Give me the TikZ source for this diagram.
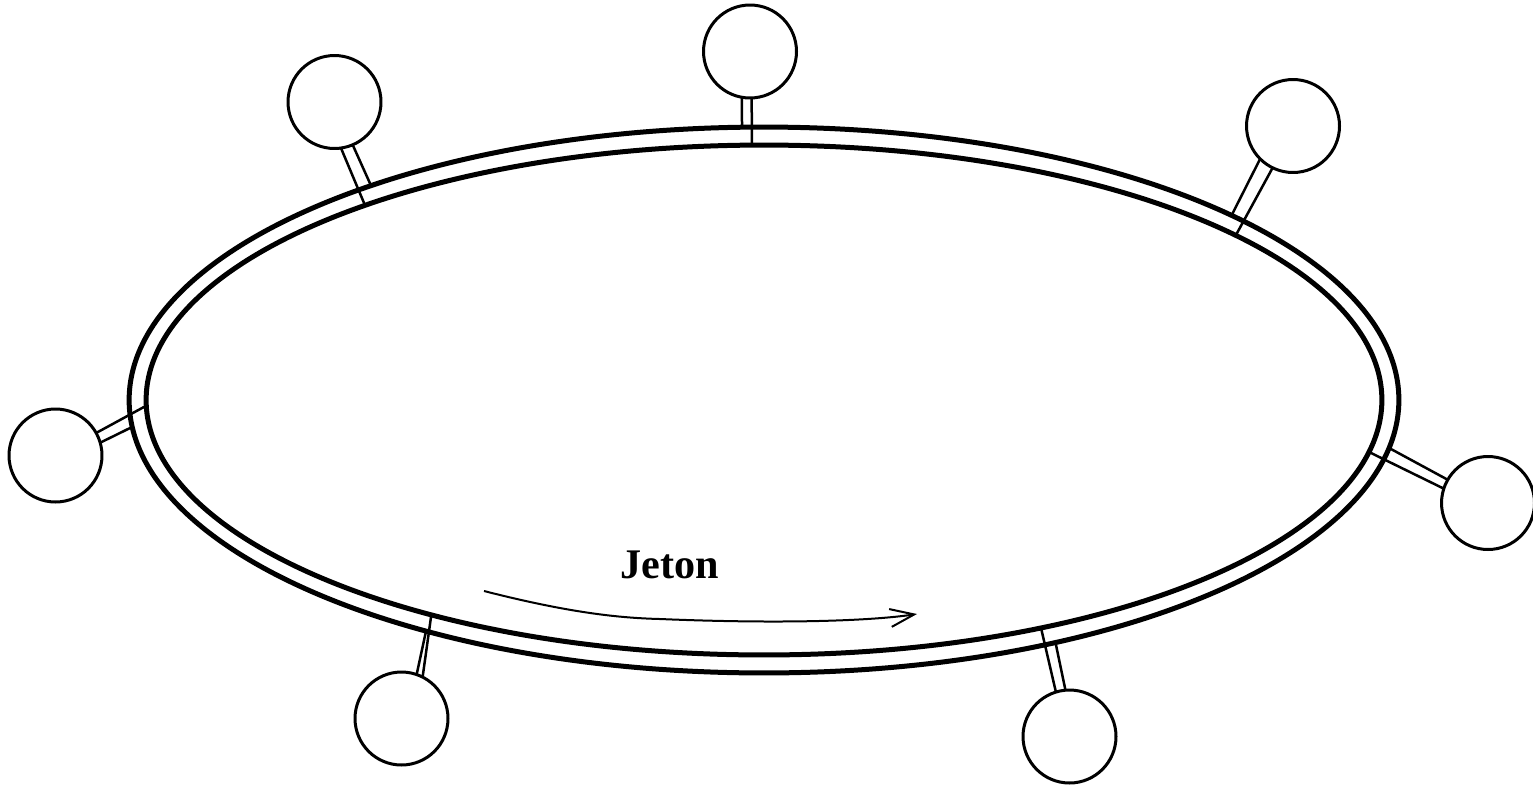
\documentclass[tikz,border=0pt]{standalone}
\usepackage{fontspec}
\setmainfont{Liberation Serif}
\usetikzlibrary{arrows.meta,shapes.geometric}

\tikzset{
  ringline/.style={draw, ellipse, inner sep=0pt, outer sep=0pt, line width=0.1cm},
  station/.style={draw, circle, inner sep=0pt, outer sep=0pt, minimum size=1.86cm, line width=0.06cm},
  stem/.style={line width=0.05cm},
}

\begin{document}
\begin{tikzpicture}[x=0.02cm,y=-0.02cm]
\useasboundingbox (0,0) rectangle (1533,785);

% the ring
\node[ringline, minimum width=25.4cm, minimum height=10.92cm] (outer) at (764,400) {};
\node[ringline, minimum width=24.72cm, minimum height=10.2cm] (inner) at (764,400) {};

% stations
\node[station] (top) at (750,51.5) {};
\node[station] (topleft) at (334.5,102) {};
\node[station] (topright) at (1293,126) {};
\node[station] (left) at (55.5,455.5) {};
\node[station] (right) at (1488,503) {};
\node[station] (botleft) at (401.5,718.5) {};
\node[station] (botright) at (1069.5,736.5) {};

% where the taps meet the ring
\coordinate (topo) at (742,127.2);
\coordinate (topi) at (752,145.1);
\coordinate (toplefti) at (365,205.3);
\coordinate (toplefto) at (371,185.6);
\coordinate (toprighto) at (1231.6,215.3);
\coordinate (toprighti) at (1235.8,235.3);
\coordinate (lefti) at (146.1,405.8);
\coordinate (lefto) at (132.1,427);
\coordinate (righto) at (1389.1,448);
\coordinate (righti) at (1369,452);
\coordinate (botlefto) at (426,631.1);
\coordinate (botlefti) at (431.3,614.8);
\coordinate (botrighti) at (1041,627.9);
\coordinate (botrighto) at (1055.5,642.6);

% taps onto the ring
\draw[stem] (top.260.24) -- (topo);
\draw[stem] (top.272.46) -- (topi);

\draw[stem] (topleft.278.04) -- (toplefti);
\draw[stem] (topleft.293.4) -- (toplefto);

\draw[stem] (topright.225.9) -- (toprighto);
\draw[stem] (topright.244) -- (toprighti);

\draw[stem] (left.29.5) -- (lefti);
\draw[stem] (left.16.5) -- (lefto);

\draw[stem] (right.150.7) -- (righto);
\draw[stem] (right.162.7) -- (righti);

\draw[stem] (botleft.71.6) -- (botlefto);
\draw[stem] (botleft.63.7) -- (botlefti);

\draw[stem] (botright.107.7) -- (botrighti);
\draw[stem] (botright.95.5) -- (botrighto);

% token
\node[font=\bfseries\fontsize{24}{28}\selectfont, anchor=base] (token) at (670,578) {Jeton};
\coordinate (tokstart) at (484,591);
\coordinate (tokend) at (917,614);
\draw[line width=0.04cm, -{Straight Barb[length=0.48cm,width=0.36cm]}] (tokstart) .. controls (570,613) and (620,618) .. (660,619) .. controls (780,624) and (870,621) .. (tokend);
\end{tikzpicture}
\end{document}
